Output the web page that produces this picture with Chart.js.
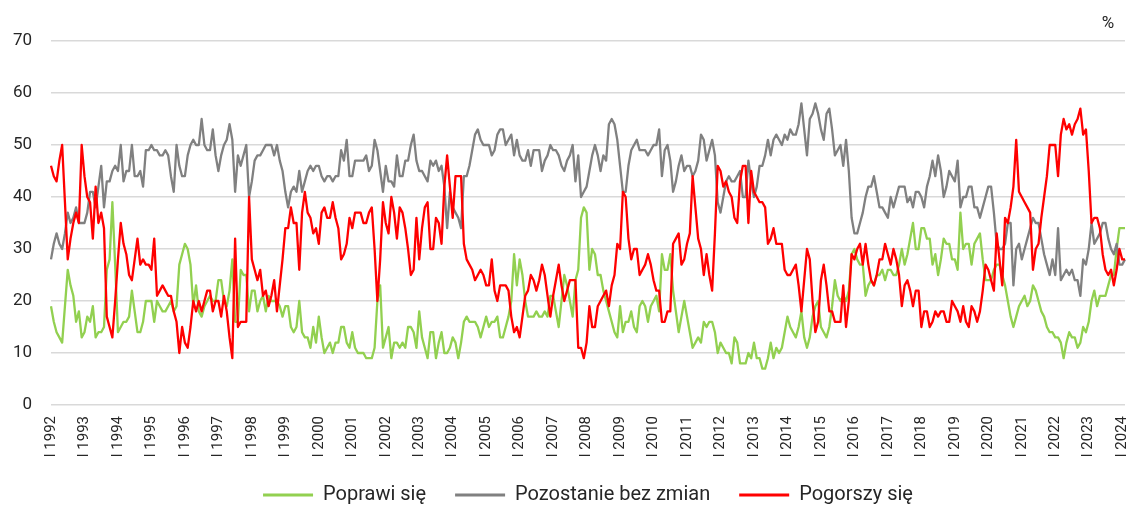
<!DOCTYPE html>
<html><head><meta charset="utf-8">
<script src="https://cdn.jsdelivr.net/npm/chart.js@4.4.1/dist/chart.umd.min.js"></script>
<style>html,body{margin:0;padding:0;background:#fff;}#wrap{width:1131px;height:505px;}</style>
</head><body><div id="wrap"><canvas id="c" width="1131" height="505"></canvas></div>
<script>
const years = [1992,1993,1994,1995,1996,1997,1998,1999,2000,2001,2002,2003,2004,2005,2006,2007,2008,2009,2010,2011,2012,2013,2014,2015,2016,2017,2018,2019,2020,2021,2022,2023,2024];
const romanMonths = ['I','II','III','IV','V','VI','VII','VIII','IX','X','XI','XII'];
const yTicks = [0,10,20,30,40,50,60,70];
const seriesNames = ['Poprawi się','Pozostanie bez zmian','Pogorszy się'];

const poprawi = [
19,16,14,13,12,19,26,23,21,16,
18,13,14,17,16,19,13,14,14,15,
26,28,39,27,14,15,16,16,17,22,
18,14,14,16,20,20,20,16,
20,19,18,18,19,20,18,19,27,29,
31,30,27,19,23,18,17,19,20,21,
20,20,24,24,20,19,22,28,16,16,
26,25,25,18,22,22,18,20,21,
18,21,20,20,20,19,17,19,19,15,
14,15,20,14,13,13,11,15,12,17,
13,10,11,12,10,12,12,15,15,12,
11,14,11,10,10,10,9,9,
9,11,20,23,11,13,15,9,12,12,
11,12,11,15,15,14,11,18,13,11,
9,14,14,9,12,14,10,10,11,13,
12,9,12,16,17,16,16,16,15,13,15,
17,15,16,16,17,13,13,15,17,20,
29,23,28,25,20,17,17,17,18,17,
17,18,17,21,21,18,15,20,25,23,
20,17,24,26,36,38,37,26,30,
29,25,25,22,20,18,16,14,13,19,
14,16,16,18,15,14,19,20,19,16,
19,20,21,18,29,26,26,29,22,18,
14,17,20,17,14,11,12,13,12,16,
15,16,16,14,10,12,11,10,10,8,
13,12,8,8,8,10,9,12,9,9,
7,7,9,12,9,11,10,11,14,17,
15,14,13,15,18,13,11,13,17,
19,20,15,14,13,15,19,24,21,20,
21,20,22,29,30,28,27,27,21,23,
24,23,25,25,26,24,26,26,25,25,
27,30,27,29,32,35,30,30,34,
34,32,32,27,29,25,28,32,31,31,
28,28,26,37,30,31,31,27,31,32,
33,28,24,24,24,26,27,27,25,23,
20,17,15,17,19,20,21,19,20,23,
22,20,18,17,15,14,14,13,13,12,
9,12,14,13,13,11,12,15,14,16,
20,22,19,21,21,21,23,25,25,30,34,34,34
];

const pozostanie = [
28,31,33,31,30,33,37,35,36,38,
35,35,35,37,41,41,38,42,46,38,
43,43,45,46,45,50,43,45,45,50,
44,44,45,42,49,49,50,49,
49,48,48,49,48,44,41,50,46,44,
44,48,50,51,50,50,55,50,49,49,
53,48,45,48,50,51,54,51,41,48,
46,48,50,40,43,47,48,48,49,
50,50,50,48,50,47,45,41,38,41,
42,41,45,41,43,45,46,45,46,46,
44,43,44,44,43,44,44,49,47,51,
44,44,47,47,47,47,48,45,46,51,
49,45,41,46,43,43,42,48,44,44,
47,47,50,52,47,45,45,44,43,47,
46,47,45,46,42,34,41,38,37,36,
34,44,44,46,49,52,53,51,50,
50,50,48,49,52,53,53,50,51,52,
48,51,48,47,47,49,46,49,49,49,
45,47,48,50,49,49,48,46,45,47,
48,50,43,48,40,41,42,45,48,50,
48,45,48,47,54,55,54,51,46,41,
41,46,49,50,51,49,49,49,48,49,
50,50,53,44,49,50,47,41,43,46,
48,45,46,46,44,45,47,52,51,
47,49,51,48,39,37,40,43,44,43,
43,44,45,40,40,47,43,40,42,46,
46,48,51,48,51,52,51,50,52,51,
53,52,52,54,58,53,48,55,56,
58,56,53,51,56,57,53,48,49,50,
46,51,45,36,33,33,35,37,40,42,
42,44,41,38,38,37,36,40,38,40,
42,42,42,39,40,38,41,41,40,38,
42,44,47,44,48,45,40,42,45,44,
43,47,38,40,40,42,42,38,38,36,
38,40,42,42,37,31,30,30,31,35,
35,23,30,31,28,30,32,34,36,
35,35,32,29,27,25,28,25,34,24,
25,26,25,26,24,24,21,28,27,30,
35,31,32,33,35,35,32,30,29,31,27,27,28
];

const pogorszy = [
46,44,43,47,50,39,28,32,35,37,
35,50,44,40,39,32,42,35,37,34,
17,15,13,20,28,35,31,29,25,24,
28,32,27,28,27,27,26,32,
21,22,23,22,21,21,18,16,10,15,
12,11,15,20,18,20,18,20,22,22,
18,20,20,17,21,18,13,9,32,15,
16,16,16,40,28,26,24,26,21,
22,19,21,24,18,23,28,34,34,38,
35,35,26,37,41,37,36,33,34,31,
37,38,36,36,39,36,34,28,29,31,
36,34,37,37,37,35,35,37,38,30,
20,28,39,35,33,40,37,32,38,37,
34,30,25,26,36,28,34,38,39,30,
30,36,35,31,42,48,42,36,44,44,
44,31,28,27,26,24,25,26,25,
23,23,28,22,20,23,23,23,22,17,
14,15,13,17,21,22,25,24,22,24,
27,25,21,17,21,24,27,23,20,22,
24,24,24,11,11,9,12,19,15,15,
19,20,21,22,19,23,25,31,30,41,
40,32,28,30,30,25,26,27,29,27,
24,22,22,16,16,18,18,31,32,33,
27,28,31,33,44,38,32,30,25,
29,25,22,33,46,45,42,43,41,40,
36,35,43,46,46,35,45,41,40,39,
39,38,31,32,34,31,31,31,26,25,
25,26,27,23,18,24,30,28,20,
14,16,24,27,23,18,18,16,16,16,
23,15,20,29,28,30,31,27,31,27,
24,23,25,28,28,31,29,27,30,28,
25,19,23,24,22,19,22,22,15,18,
18,15,16,18,17,18,18,16,16,20,
19,18,16,19,16,15,19,18,16,18,
22,27,26,24,22,33,28,23,36,35,
38,42,51,41,40,39,38,37,26,
30,31,36,40,44,50,50,50,44,52,
55,53,54,52,54,55,57,52,53,45,
35,36,36,34,29,26,25,26,23,26,30,28,28
];

const labels = [];
for (const y of years) {
  for (const r of romanMonths) {
    if (labels.length < poprawi.length) labels.push(r + ' ' + y);
  }
}

const FONT = "Roboto, 'Liberation Sans', Arial, sans-serif";
const TEXT = '#262626';

const percentPlugin = {
  id: 'percentUnit',
  afterDraw(chart) {
    const ctx = chart.ctx;
    ctx.save();
    ctx.font = '17px ' + FONT;
    ctx.fillStyle = TEXT;
    ctx.textAlign = 'center';
    ctx.textBaseline = 'middle';
    ctx.fillText('%', chart.chartArea.right - 17, chart.chartArea.top - 17);
    ctx.restore();
  }
};

new Chart(document.getElementById('c'), {
  type: 'line',
  data: {
    labels: labels,
    datasets: [
      {label: seriesNames[0], data: poprawi, borderColor: '#92d050', backgroundColor: '#92d050', order: 2},
      {label: seriesNames[1], data: pozostanie, borderColor: '#808080', backgroundColor: '#808080', order: 1},
      {label: seriesNames[2], data: pogorszy, borderColor: '#ff0000', backgroundColor: '#ff0000', order: 0}
    ]
  },
  options: {
    responsive: false,
    animation: false,
    devicePixelRatio: 1,
    layout: {padding: {left: 0, right: 6, top: 41, bottom: 0}},
    elements: {
      line: {borderWidth: 2.3, tension: 0, fill: false, borderJoinStyle: 'round'},
      point: {radius: 0, hoverRadius: 0}
    },
    plugins: {
      tooltip: {enabled: false},
      legend: {
        position: 'bottom',
        fullSize: false,
        maxHeight: 49,
        labels: {
          boxWidth: 50,
          boxHeight: 3,
          padding: 29,
          color: TEXT,
          font: {family: FONT, size: 20},
          sort: (a, b) => a.datasetIndex - b.datasetIndex,
          generateLabels(chart) {
            const items = Chart.defaults.plugins.legend.labels.generateLabels(chart);
            items.forEach(it => { it.lineWidth = 0; it.strokeStyle = 'rgba(0,0,0,0)'; });
            return items;
          }
        }
      }
    },
    scales: {
      x: {
        type: 'category',
        grid: {display: false, drawTicks: false},
        border: {display: false},
        afterFit(scale) { scale.paddingLeft = 0; scale.paddingRight = 0; scale.height = 51; },
        ticks: {
          autoSkip: false,
          maxRotation: 90,
          minRotation: 90,
          padding: 11,
          color: TEXT,
          font: {family: FONT, size: 15},
          callback: function(v) {
            const l = this.getLabelForValue(v);
            return l.startsWith('I ') ? l : null;
          }
        }
      },
      y: {
        min: 0,
        max: 70,
        afterBuildTicks(scale) { scale.ticks = yTicks.map(v => ({value: v})); },
        afterFit(scale) { scale.width = 51; },
        grid: {color: '#d9d9d9', lineWidth: 1.5, drawTicks: false},
        border: {display: false},
        ticks: {
          padding: 19,
          color: TEXT,
          font: {family: FONT, size: 17}
        }
      }
    }
  },
  plugins: [percentPlugin]
});
</script>
</body></html>
